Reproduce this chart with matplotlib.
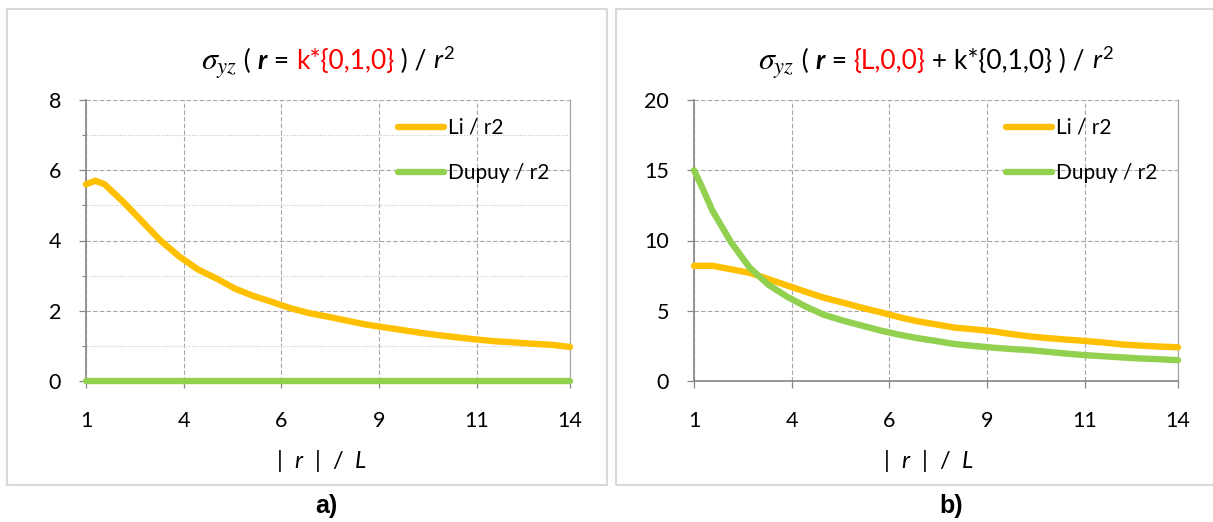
import numpy as np
import matplotlib.pyplot as plt
from matplotlib.patches import Rectangle
from matplotlib.ticker import MultipleLocator
from matplotlib.offsetbox import TextArea, HPacker, AnchoredOffsetbox

plt.rcParams['font.family'] = ['Lato', 'DejaVu Sans']
plt.rcParams['mathtext.fontset'] = 'custom'
plt.rcParams['mathtext.rm'] = 'Lato'
plt.rcParams['mathtext.it'] = 'Lato:italic'
plt.rcParams['mathtext.bf'] = 'Lato:bold'

# ---------------------------------------------------------------
# data
# ---------------------------------------------------------------
r_L = [1, 1.25, 1.5, 2, 2.5, 3, 3.5, 4, 4.5, 5, 5.5, 6, 6.5, 7, 7.5,
       8, 8.5, 9, 9.5, 10, 10.5, 11, 11.5, 12, 12.5, 13, 13.5, 14]

# a) r = k*{0,1,0}
li_a = [5.6, 5.7, 5.6, 5.1, 4.55, 4.0, 3.55, 3.18, 2.92, 2.63, 2.42, 2.25, 2.07, 1.93,
        1.83, 1.72, 1.61, 1.53, 1.45, 1.37, 1.3, 1.24, 1.18, 1.13, 1.1, 1.06, 1.03, 0.97]
dupuy_a = [0, 0, 0, 0, 0, 0, 0, 0, 0, 0, 0, 0, 0, 0,
           0, 0, 0, 0, 0, 0, 0, 0, 0, 0, 0, 0, 0, 0]

# b) r = {L,0,0} + k*{0,1,0}
li_b = [8.2, 8.2, 8.2, 7.95, 7.7, 7.25, 6.8, 6.35, 5.92, 5.58, 5.22, 4.9, 4.55, 4.25,
        4.03, 3.8, 3.68, 3.55, 3.35, 3.18, 3.05, 2.95, 2.85, 2.74, 2.6, 2.52, 2.45, 2.4]
dupuy_b = [15.0, 13.6, 12.1, 9.85, 8.05, 6.85, 6.0, 5.3, 4.7, 4.3, 3.95, 3.6, 3.3, 3.05,
           2.85, 2.63, 2.5, 2.38, 2.28, 2.2, 2.08, 1.95, 1.84, 1.76, 1.68, 1.6, 1.55, 1.48]

x_ticks = [1, 3.63, 6.25, 8.88, 11.5, 14]
x_ticklabels = ['1', '4', '6', '9', '11', '14']

LI_COL = '#FFC000'
DU_COL = '#92D050'
GRID = '#a6a6a6'
AXC = '#868686'

W, H = 1213, 522
fig = plt.figure(figsize=(W / 100, H / 100), dpi=100)


def px(x0, y0, w, h):
    return [x0 / W, 1 - (y0 + h) / H, w / W, h / H]


# panel frames
for x0 in (7, 616):
    fig.add_artist(Rectangle((x0 / W, 1 - 485 / H), 600 / W, 476 / H,
                             transform=fig.transFigure, fill=False,
                             ec='#d9d9d9', lw=1.5))


def make_panel(rect, li, du, ymax, ystep, minor, title_parts, label, xlab_x, lab_x):
    ax = fig.add_axes(px(*rect))
    ax.plot(r_L, li, color=LI_COL, lw=4.6, solid_capstyle='round',
            clip_on=False, zorder=3, label='Li / r2')
    ax.plot(r_L, du, color=DU_COL, lw=4.6, solid_capstyle='round',
            clip_on=False, zorder=3, label='Dupuy / r2')
    ax.set_xlim(1, 14)
    ax.set_ylim(0, ymax)
    ax.set_yticks(np.arange(0, ymax + 0.1, ystep))
    ax.set_xticks(x_ticks)
    ax.set_xticklabels(x_ticklabels)
    if minor:
        ax.yaxis.set_minor_locator(MultipleLocator(minor))
        ax.grid(axis='y', which='minor', ls=(0, (1, 1.5)), color='#c8c8c8', lw=0.8)
        ax.tick_params(axis='y', which='minor', direction='out', length=3,
                       color=AXC, width=0.8)
    ax.grid(axis='both', which='major', ls=(0, (4, 2)), color=GRID, lw=0.8)
    ax.set_axisbelow(True)
    for s in ('left', 'bottom'):
        ax.spines[s].set_color(AXC)
        ax.spines[s].set_linewidth(1.2)
    ax.spines['top'].set_visible(False)
    ax.spines['right'].set_color(GRID)
    ax.spines['right'].set_linewidth(0.9)
    ax.tick_params(axis='both', which='major', direction='out', length=5,
                   color=AXC, width=0.9, labelsize=15.5)
    ax.tick_params(axis='x', pad=16.5)
    ax.tick_params(axis='y', pad=13)

    ax.legend(loc='upper left', bbox_to_anchor=(0.645, 0.936), frameon=False,
              fontsize=15, handlelength=2.2, handletextpad=0.2,
              labelspacing=1.2, borderpad=0, borderaxespad=0)

    # title built from pieces so parts can be coloured
    boxes = [TextArea(t, textprops={'fontsize': 19, **kw}) for t, kw in title_parts]
    pack = HPacker(children=boxes, align='baseline', pad=0, sep=0)
    ab = AnchoredOffsetbox(loc='center', child=pack, frameon=False,
                           bbox_to_anchor=(0.5, (381 - 63) / 281),
                           bbox_transform=ax.transAxes, borderpad=0, pad=0)
    ax.add_artist(ab)

    fig.text(xlab_x / W, 1 - 461 / H, r'|  $r$  |  /  $L$', ha='center', va='center',
             fontsize=17)
    fig.text(lab_x / W, 1 - 506 / H, label, ha='center', va='center',
             fontsize=18, fontweight='bold', family='Liberation Sans')
    return ax


sig = (r'$\sigma_{yz}$', {'math_fontfamily': 'stix', 'fontsize': 23})
rb = ('r', {'fontweight': 'bold', 'fontstyle': 'italic'})
r2 = (r'$r^{2}$', {})

make_panel((86, 100, 484, 281), li_a, dupuy_a, 8, 2, 1,
           [sig, (' ( ', {}), rb, (' = ', {}), ('k*{0,1,0}', {'color': 'red'}),
            (' ) / ', {}), r2],
           'a)', 322, 326)

make_panel((694, 100, 484, 281), li_b, dupuy_b, 20, 5, None,
           [sig, (' ( ', {}), rb, (' = ', {}), ('{L,0,0}', {'color': 'red'}),
            (' + k*{0,1,0} ) / ', {}), r2],
           'b)', 929, 951)

fig.savefig('out.png', dpi=100)
